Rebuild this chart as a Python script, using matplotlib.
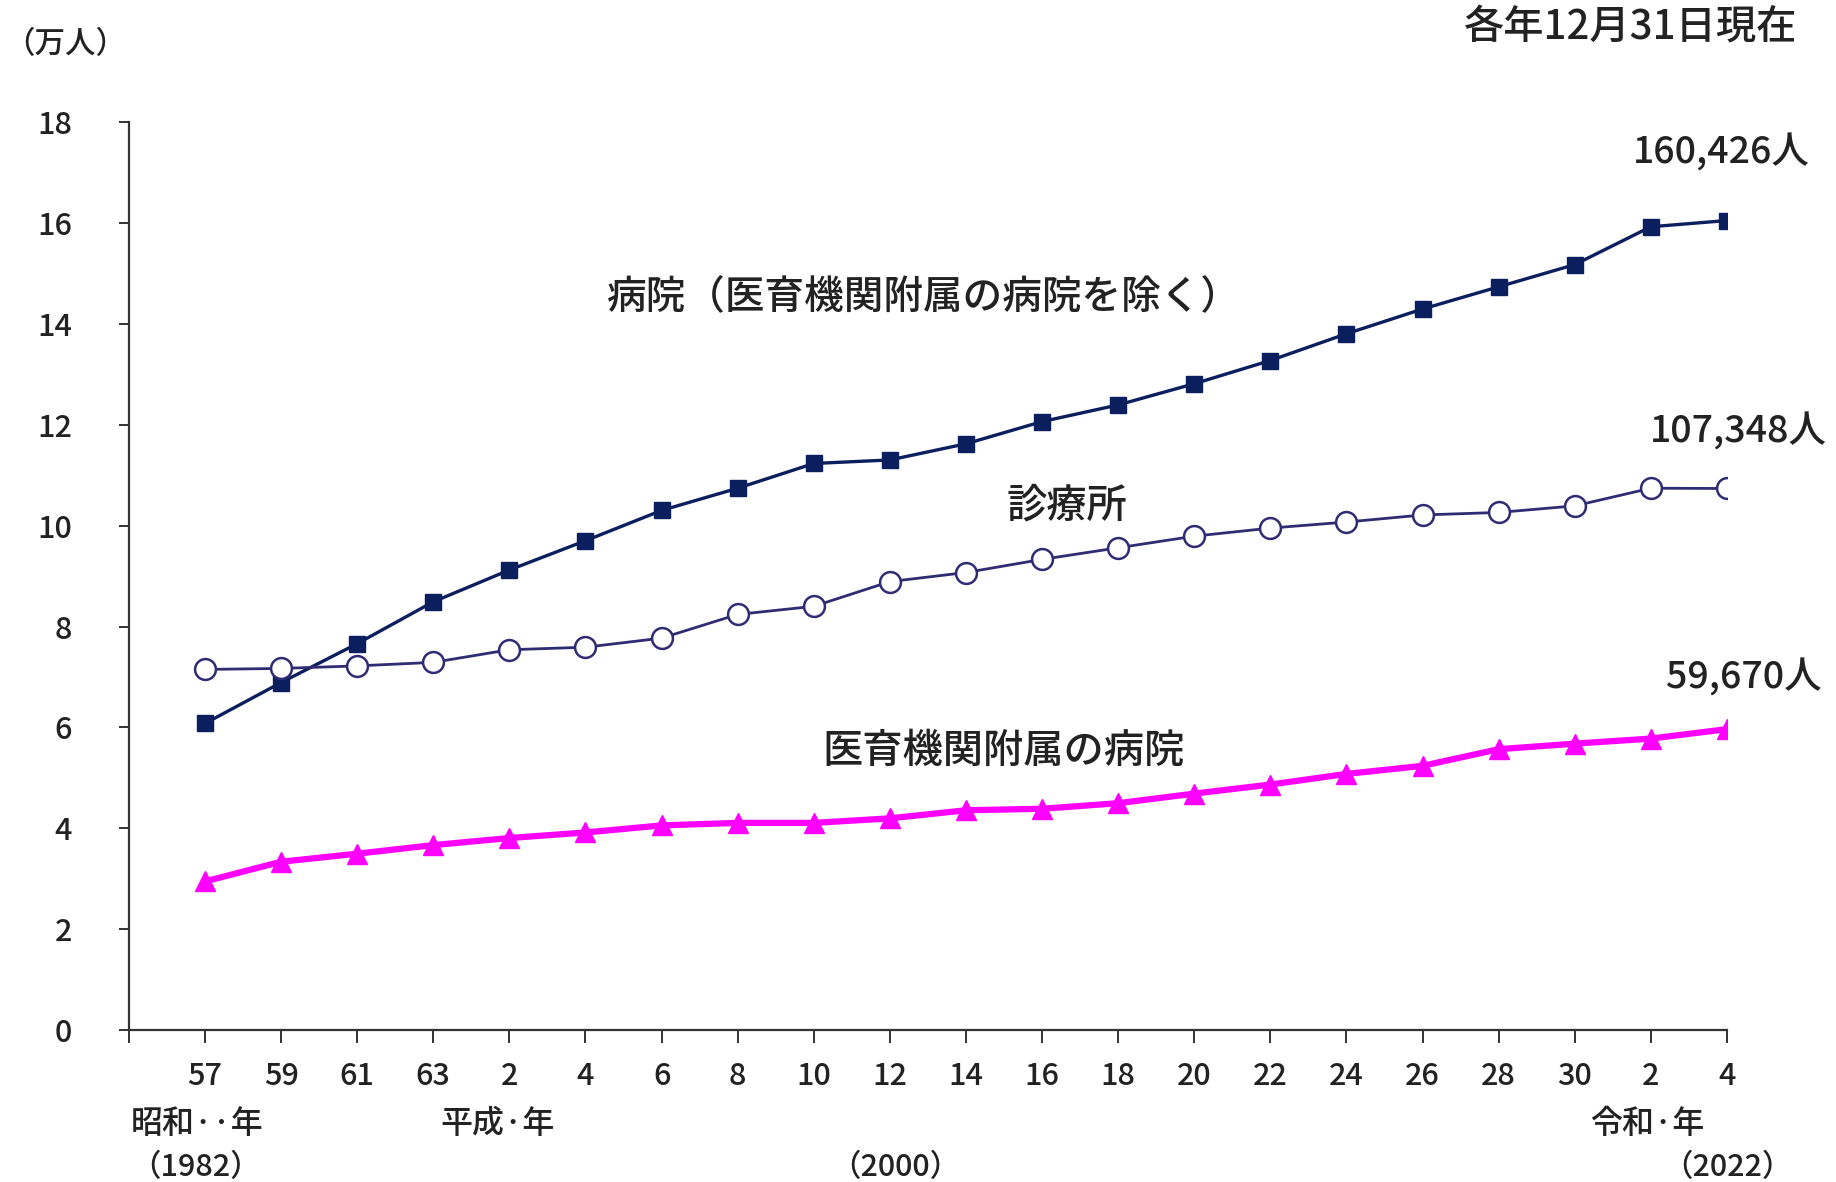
import matplotlib.pyplot as plt
from matplotlib.transforms import blended_transform_factory

plt.rcParams['font.family'] = ['Noto Sans CJK JP', 'DejaVu Sans']
plt.rcParams['font.weight'] = 'medium'

# 年次（和暦）と各施設の従事者数（万人）
years = ['57', '59', '61', '63', '2', '4', '6', '8', '10', '12', '14',
         '16', '18', '20', '22', '24', '26', '28', '30', '2', '4']
hospital = [6.08, 6.89, 7.66, 8.49, 9.12, 9.70, 10.30, 10.74, 11.23, 11.30, 11.62,
            12.06, 12.39, 12.81, 13.27, 13.80, 14.29, 14.73, 15.17, 15.92, 16.0426]
clinic = [7.15, 7.17, 7.22, 7.29, 7.54, 7.59, 7.77, 8.24, 8.40, 8.89, 9.07,
          9.33, 9.56, 9.79, 9.95, 10.07, 10.21, 10.26, 10.39, 10.74, 10.7348]
university = [2.95, 3.34, 3.50, 3.67, 3.81, 3.92, 4.06, 4.11, 4.11, 4.20, 4.36,
              4.39, 4.50, 4.69, 4.87, 5.08, 5.24, 5.57, 5.68, 5.78, 5.967]

series_names = ['病院（医育機関附属の病院を除く）', '診療所', '医育機関附属の病院']
last_labels = ['160,426人', '107,348人', '59,670人']

navy = '#0b1f5e'
purple = '#302c74'
magenta = '#ff00ff'
txt = '#222222'

x = list(range(len(years)))

fig = plt.figure(figsize=(18.36, 11.82), dpi=100)
ax = fig.add_axes([0.0702, 0.1283, 0.8704, 0.7687])

ax.plot(x, hospital, color=navy, lw=2.4, marker='s', ms=11.5,
        mfc=navy, mec=navy, zorder=3)
ax.plot(x, clinic, color=purple, lw=2.0, marker='o', ms=15,
        mfc='white', mec=purple, mew=1.8, zorder=4)
ax.plot(x, university, color=magenta, lw=4.5, marker='^', ms=15,
        mfc=magenta, mec=magenta, zorder=5)

ax.set_xlim(-1, 20)
ax.set_ylim(0, 18)
ax.set_yticks(range(0, 19, 2))
ax.set_xticks(range(-1, 21))
ax.set_xticklabels([''] + years)

for s in ['top', 'right']:
    ax.spines[s].set_visible(False)
for s in ['left', 'bottom']:
    ax.spines[s].set_linewidth(1.6)
    ax.spines[s].set_color('#333333')

ax.tick_params(axis='y', direction='out', length=7, width=1.4, pad=34,
               labelsize=22, colors='#333333')
ax.tick_params(axis='x', direction='out', length=9, width=1.4, pad=13,
               labelsize=22, colors='#333333')
for lab in ax.get_yticklabels() + ax.get_xticklabels():
    lab.set_color(txt)

# 系列名
ax.text(9.45, 14.5, series_names[0], fontsize=28.5, color=txt, ha='center', va='center')
ax.text(11.33, 10.39, series_names[1], fontsize=29, color=txt, ha='center', va='center')
ax.text(10.49, 5.52, series_names[2], fontsize=29, color=txt, ha='center', va='center')

# 最新年の値
ax.annotate(last_labels[0], xy=(20, hospital[-1]), xytext=(-4, 49),
            textcoords='offset points', fontsize=27, color=txt,
            ha='center', va='center')
ax.annotate(last_labels[1], xy=(20, clinic[-1]), xytext=(8, 41),
            textcoords='offset points', fontsize=27, color=txt,
            ha='center', va='center')
ax.annotate(last_labels[2], xy=(20, university[-1]), xytext=(12, 37),
            textcoords='offset points', fontsize=27, color=txt,
            ha='center', va='center')

# 元号と西暦
tr = blended_transform_factory(ax.transData, ax.transAxes)
row2, row3 = -0.103, -0.1505
ax.text(-0.1, row2, '昭和··年', transform=tr, fontsize=23, color=txt,
        ha='center', va='center')
ax.text(3.85, row2, '平成·年', transform=tr, fontsize=23, color=txt,
        ha='center', va='center')
ax.text(18.95, row2, '令和·年', transform=tr, fontsize=23, color=txt,
        ha='center', va='center')
ax.text(-0.13, row3, '（1982）', transform=tr, fontsize=22, color=txt,
        ha='center', va='center')
ax.text(9.07, row3, '（2000）', transform=tr, fontsize=22, color=txt,
        ha='center', va='center')
ax.text(20.0, row3, '（2022）', transform=tr, fontsize=22, color=txt,
        ha='center', va='center')

fig.text(0.0355, 0.9624, '（万人）', fontsize=22, color=txt, ha='center', va='center')
fig.text(0.979, 0.977, '各年12月31日現在', fontsize=29, color=txt, ha='right', va='center')

fig.savefig('out.png', dpi=100, facecolor='white')
